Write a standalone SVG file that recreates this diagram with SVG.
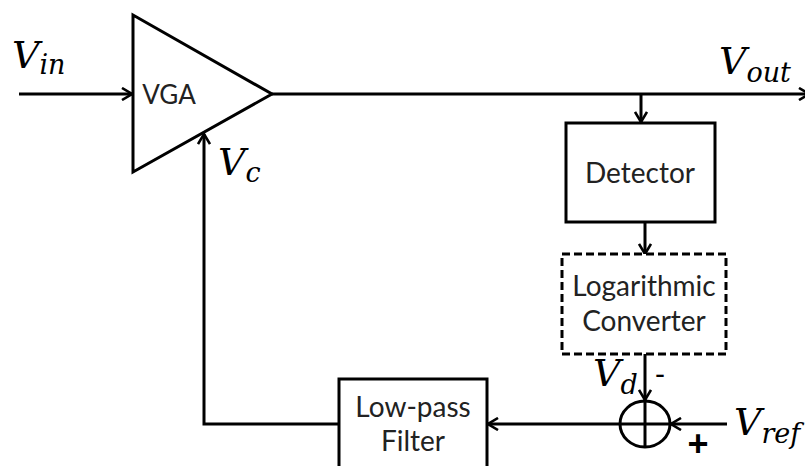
<svg xmlns="http://www.w3.org/2000/svg" width="805" height="466" viewBox="0 0 805 466">
  <defs>
    <marker id="arrow" viewBox="0 0 12 14" refX="11" refY="7" markerWidth="12" markerHeight="14" markerUnits="userSpaceOnUse" orient="auto">
      <path d="M1,1 L11,7 L1,13" fill="none" stroke="#000" stroke-width="2.6"/>
    </marker>
  </defs>
  <style>
    .ln { fill: none; stroke: #000; stroke-width: 3; }
    .box { fill: #fff; stroke: #000; stroke-width: 3; }
    .dash { fill: #fff; stroke: #000; stroke-width: 3; stroke-dasharray: 8 4; }
    .lbl { font-family: Lato, "Open Sans", sans-serif; font-size: 28px; fill: #222; text-anchor: middle; }
    .math { font-family: "DejaVu Serif", serif; font-style: italic; font-size: 38px; fill: #000; }
    .sub { font-size: 27px; }
    .sign { font-family: "Liberation Sans", sans-serif; font-size: 30px; fill: #000; text-anchor: middle; }
  </style>
  <rect width="805" height="466" fill="#fff"/>

  <!-- signal and feedback connectors -->
  <g id="connectors">
    <line class="ln" x1="19" y1="94" x2="132" y2="94" marker-end="url(#arrow)"/>
    <line class="ln" x1="272" y1="94" x2="809" y2="94" marker-end="url(#arrow)"/>
    <line class="ln" x1="641" y1="94" x2="641" y2="122" marker-end="url(#arrow)"/>
    <line class="ln" x1="645" y1="222" x2="645" y2="254" marker-end="url(#arrow)"/>
    <line class="ln" x1="645" y1="354" x2="645" y2="400" marker-end="url(#arrow)"/>
    <line class="ln" x1="727" y1="424" x2="671" y2="424" marker-end="url(#arrow)"/>
    <line class="ln" x1="620" y1="424" x2="488" y2="424" marker-end="url(#arrow)"/>
    <polyline class="ln" points="339,424 204,424 204,134" marker-end="url(#arrow)"/>
  </g>

  <!-- variable gain amplifier -->
  <g id="vga">
    <polygon class="box" points="133,15 133,172 272,94" stroke-linejoin="miter"/>
    <text class="lbl" x="169" y="104" style="font-size:26px">VGA</text>
  </g>

  <g id="detector">
    <rect class="box" x="566" y="123" width="149" height="99"/>
    <text class="lbl" x="640" y="183">Detector</text>
  </g>

  <g id="log-converter">
    <rect class="dash" x="562" y="254" width="164" height="100"/>
    <text class="lbl" x="644" y="296">Logarithmic</text>
    <text class="lbl" x="644" y="331">Converter</text>
  </g>

  <g id="summer">
    <ellipse class="ln" cx="645" cy="424" rx="25" ry="23"/>
    <line class="ln" x1="620" y1="424" x2="670" y2="424"/>
    <line class="ln" x1="645" y1="401" x2="645" y2="447"/>
    <text class="sign" x="660" y="384">-</text>
    <text class="sign" x="698" y="456" style="font-size:36px;font-weight:bold">+</text>
  </g>

  <g id="low-pass-filter">
    <rect class="box" x="339" y="379" width="148" height="100"/>
    <text class="lbl" x="413" y="417">Low-pass</text>
    <text class="lbl" x="413" y="451">Filter</text>
  </g>

  <!-- signal names -->
  <g id="labels">
    <text class="math" x="12" y="68">V<tspan class="sub" dy="6">in</tspan></text>
    <text class="math" x="719" y="74">V<tspan class="sub" dy="8">out</tspan></text>
    <text class="math" x="218" y="175">V<tspan class="sub" dy="7">c</tspan></text>
    <text class="math" x="593" y="386">V<tspan class="sub" dy="8">d</tspan></text>
    <text class="math" x="734" y="435">V<tspan class="sub" dy="8">ref</tspan></text>
  </g>
</svg>
